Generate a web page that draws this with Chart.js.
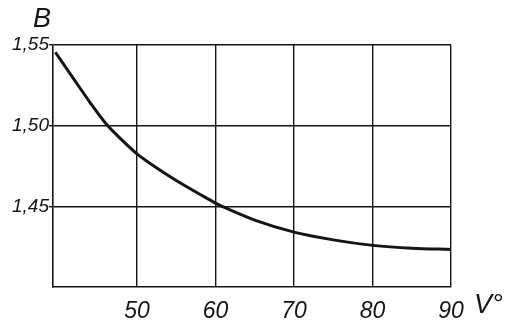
<!DOCTYPE html>
<html>
<head>
<meta charset="utf-8">
<script src="https://cdn.jsdelivr.net/npm/chart.js@4"></script>
<style>
  html, body { margin: 0; padding: 0; background: #fff; }
  #wrap { width: 516px; height: 333px; }
</style>
</head>
<body>
<div id="wrap"><canvas id="chart" width="516" height="333"></canvas></div>
<script>
const vValues = [39.6, 42, 44, 46, 48, 50, 52, 55, 58, 60, 62, 65, 70, 75, 80, 85, 90];
const bValues = [1.5455, 1.5285, 1.5145, 1.5015, 1.4915, 1.4825, 1.4755, 1.466, 1.4575, 1.452, 1.4475, 1.4415, 1.434, 1.4292, 1.4258, 1.424, 1.4233];
const xTicks = [50, 60, 70, 80, 90];
const yTicks = [1.45, 1.50, 1.55];

const ink = "#151515";
const handFont = "'Liberation Sans', Arial, sans-serif";

// axis letters B and V° drawn in the margins
const axisLetters = {
  id: "axisLetters",
  afterDraw(chart) {
    const c = chart.ctx;
    c.save();
    c.fillStyle = ink;
    c.font = "italic 27px " + handFont;
    c.textAlign = "center";
    c.textBaseline = "middle";
    c.fillText("B", 42, 19);
    c.textAlign = "left";
    c.fillText("V°", 474, 305);
    c.restore();
  },
};

new Chart(document.getElementById("chart").getContext("2d"), {
  type: "line",
  data: {
    datasets: [
      {
        data: vValues.map((v, i) => ({ x: v, y: bValues[i] })),
        borderColor: ink,
        borderWidth: 3,
        pointRadius: 0,
        cubicInterpolationMode: "monotone",
        fill: false,
      },
    ],
  },
  options: {
    responsive: false,
    animation: false,
    layout: { padding: { top: 45, right: 65, left: 0, bottom: 0 } },
    plugins: { legend: { display: false }, tooltip: { enabled: false } },
    scales: {
      x: {
        type: "linear",
        min: 39.3,
        max: 90,
        afterBuildTicks: (s) => {
          s.ticks = xTicks.map((v) => ({ value: v }));
        },
        afterFit: (s) => {
          s.height = 46;
        },
        grid: { color: ink, lineWidth: 1.4, drawTicks: false },
        border: { color: ink, width: 1.6 },
        ticks: {
          color: ink,
          padding: 11,
          maxRotation: 0,
          font: { family: handFont, size: 23, style: "italic" },
        },
      },
      y: {
        min: 1.4,
        max: 1.55,
        afterBuildTicks: (s) => {
          s.ticks = yTicks.map((v) => ({ value: v }));
        },
        afterFit: (s) => {
          s.width = 53;
        },
        grid: { color: ink, lineWidth: 1.4, tickLength: 4 },
        border: { color: ink, width: 1.6 },
        ticks: {
          color: ink,
          padding: 0,
          font: { family: handFont, size: 19, style: "italic" },
          callback: (v) => v.toFixed(2).replace(".", ","),
        },
      },
    },
  },
  plugins: [axisLetters],
});
</script>
</body>
</html>
